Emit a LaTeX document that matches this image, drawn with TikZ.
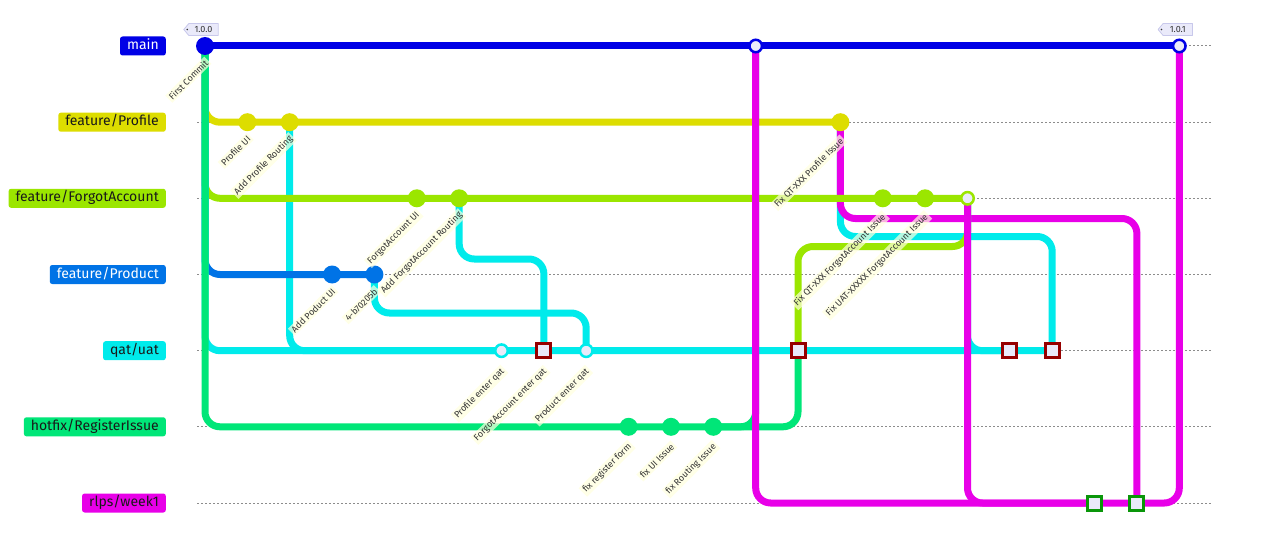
\documentclass[tikz,border=0pt]{standalone}
\usepackage{fontspec}
\setmainfont{Fira Sans}
\usetikzlibrary{calc}
\pgfdeclarelayer{back}
\pgfdeclarelayer{bg}
\pgfsetlayers{back,bg,main}
\definecolor{cmain}{RGB}{0,0,230}
\definecolor{cprof}{RGB}{221,221,0}
\definecolor{cforgot}{RGB}{155,230,0}
\definecolor{cprod}{RGB}{0,115,230}
\definecolor{cqat}{RGB}{0,235,235}
\definecolor{chot}{RGB}{0,230,120}
\definecolor{crel}{RGB}{232,0,232}
\definecolor{lav}{RGB}{234,234,250}
\definecolor{tagedge}{RGB}{200,200,235}
\definecolor{lblbg}{RGB}{255,255,222}
\definecolor{ink}{RGB}{51,51,51}
\definecolor{hlred}{RGB}{150,0,0}
\definecolor{hlgreen}{RGB}{10,150,10}
\definecolor{guide}{RGB}{140,140,140}
\begin{document}
\begin{tikzpicture}[x=1pt,y=-1pt,
  blabel/.style={anchor=east, fill=#1, rounded corners=2.5pt, minimum height=19pt,
    inner xsep=7pt, inner ysep=0pt, text height=10pt, text depth=3pt,
    font=\fontsize{14}{16}\selectfont, text=black!90},
  cdot/.style={circle, minimum size=18pt, inner sep=0pt, fill=#1},
  cmerge/.style={circle, minimum size=12.5pt, inner sep=0pt, fill=lav, draw=#1, line width=2.5pt},
  chl/.style={rectangle, minimum size=14pt, inner sep=0pt, fill=lav, draw=#1, line width=3pt},
  clabel/.style={rotate=45, anchor=east, fill=lblbg, fill opacity=0.7, text opacity=1,
    text=ink, inner xsep=2pt, inner ysep=1.5pt, font=\fontsize{9}{10}\selectfont},
  tagtxt/.style={minimum width=29pt, minimum height=11.5pt, inner sep=0pt, text=ink,
    font=\fontsize{9}{10}\selectfont},
  tagbody/.style={fill=lav, draw=tagedge, line width=0.8pt, line join=round},
  wire/.style={line width=7pt, rounded corners=15pt, draw=#1},
  guideline/.style={draw=guide, line width=1pt, dash pattern=on 2pt off 2pt},
]
\begin{pgfonlayer}{back}
  \fill[white] (0,0) rectangle (1272,559);
\end{pgfonlayer}
\useasboundingbox (0,0) rectangle (1272,559);

% branch names
\node[blabel=cmain, text=white] (bmain) at (166,46) {main};
\node[blabel=cprof] (bprof) at (166,122.2) {feature/Profile};
\node[blabel=cforgot] (bforgot) at (166,198.3) {feature/ForgotAccount};
\node[blabel=cprod, text=white] (bprod) at (166,274.5) {feature/Product};
\node[blabel=cqat] (bqat) at (166,350.7) {qat/uat};
\node[blabel=chot] (bhot) at (166,426.8) {hotfix/RegisterIssue};
\node[blabel=crel] (brel) at (166,503) {rlps/week1};

% commits
\node[cdot=cmain]    (c0)  at (205.0,46)    {};
\node[cdot=cprof]    (c1)  at (247.4,122.2) {};
\node[cdot=cprof]    (c2)  at (289.7,122.2) {};
\node[cdot=cprod]    (c3)  at (332.1,274.5) {};
\node[cdot=cprod]    (c4)  at (374.4,274.5) {};
\node[cdot=cforgot]  (c5)  at (416.8,198.3) {};
\node[cdot=cforgot]  (c6)  at (459.2,198.3) {};
\node[cmerge=cqat]   (c7)  at (501.5,350.7) {};
\node[chl=hlred]     (c8)  at (543.9,350.7) {};
\node[cmerge=cqat]   (c9)  at (586.2,350.7) {};
\node[cdot=chot]     (c10) at (628.6,426.8) {};
\node[cdot=chot]     (c11) at (671.0,426.8) {};
\node[cdot=chot]     (c12) at (713.3,426.8) {};
\node[cmerge=cmain]  (c13) at (755.7,46)    {};
\node[chl=hlred]     (c14) at (798.0,350.7) {};
\node[cdot=cprof]    (c15) at (840.4,122.2) {};
\node[cdot=cforgot]  (c16) at (882.8,198.3) {};
\node[cdot=cforgot]  (c17) at (925.1,198.3) {};
\node[cmerge=cforgot](c18) at (967.5,198.3) {};
\node[chl=hlred]     (c19) at (1009.8,350.7) {};
\node[chl=hlred]     (c20) at (1052.2,350.7) {};
\node[chl=hlgreen]   (c21) at (1094.6,503)  {};
\node[chl=hlgreen]   (c22) at (1136.9,503)  {};
\node[cmerge=cmain]  (c23) at (1179.3,46)   {};

% tags
\node[tagtxt] (tag0) at ($(c0)+(-1.5,-16.5)$) {1.0.0};
\node[tagtxt] (tag1) at ($(c23)+(-1.5,-16.5)$) {1.0.1};

% commit messages
\node[clabel] (l0)  at ($(c0)+(3,14)$)  {First Commit};
\node[clabel] (l1)  at ($(c1)+(3,14)$)  {Profile UI};
\node[clabel] (l2)  at ($(c2)+(3,14)$)  {Add Profile Routing};
\node[clabel] (l3)  at ($(c3)+(3,14)$)  {Add Poduct UI};
\node[clabel] (l4)  at ($(c4)+(3,14)$)  {4-b70205b};
\node[clabel] (l5)  at ($(c5)+(3,14)$)  {ForgotAccount UI};
\node[clabel] (l6)  at ($(c6)+(3,14)$)  {Add ForgotAccount Routing};
\node[clabel] (l7)  at ($(c7)+(3,18)$)  {Profile enter qat};
\node[clabel] (l8)  at ($(c8)+(3,18)$)  {ForgotAccount enter qat};
\node[clabel] (l9)  at ($(c9)+(3,18)$)  {Product enter qat};
\node[clabel] (l10) at ($(c10)+(3,17)$) {fix register form};
\node[clabel] (l11) at ($(c11)+(3,17)$) {fix UI Issue};
\node[clabel] (l12) at ($(c12)+(3,17)$) {fix Routing Issue};
\node[clabel] (l15) at ($(c15)+(3,16)$) {Fix QT-XXX Profile Issue};
\node[clabel] (l16) at ($(c16)+(3,16)$) {Fix QT-XXX ForgotAccount Issue};
\node[clabel] (l17) at ($(c17)+(3,16)$) {Fix UAT-XXXXX ForgotAccount Issue};

% routing lanes for merge lines
\coordinate (laneA) at (0,259);
\coordinate (laneB) at (0,313);
\coordinate (laneC) at (0,218.5);
\coordinate (laneD) at (0,236.5);
\coordinate (laneE) at (0,246.5);

\begin{pgfonlayer}{bg}
  % dotted branch guides
  \foreach \yy in {46,122.2,198.3,274.5,350.7,426.8,503}
    \draw[guideline] (197,\yy) -- (1212,\yy);

  % tag bodies
  \foreach \t in {tag0,tag1}{
    \path[tagbody] (\t.north east) -- (\t.north west) -- ($(\t.west)+(-5,0)$)
      -- (\t.south west) -- (\t.south east) -- cycle;
    \fill[ink] ($(\t.west)+(-1.6,0)$) circle (0.9pt);
  }

  % early merges into qat/uat
  \draw[wire=cqat] (c2.center) |- (c7.center);
  \draw[wire=cqat] (c6.center) -- (c6 |- laneA) -- (c8 |- laneA) -- (c8.center);
  \draw[wire=cqat] (c4.center) -- (c4 |- laneB) -- (c9 |- laneB) -- (c9.center);
  % feature/Profile fixes merged onward
  \draw[wire=cqat] (c15.center) -- (c15 |- laneD) -- (c20 |- laneD) -- (c20.center);
  \draw[wire=crel] (c15.center) -- (c15 |- laneC) -- (c22 |- laneC) -- (c22.center);

  % branch rows
  \draw[wire=cmain] (c0.center) -- (c13.center) -- (c23.center);
  \draw[wire=cprof] (c0.center) |- (c1.center) -- (c2.center) -- (c15.center);
  \draw[wire=cforgot] (c0.center) |- (c5.center) -- (c18.center);
  \draw[wire=cprod] (c0.center) |- (c3.center) -- (c4.center);
  \draw[wire=cqat] (c0.center) |- (c7.center) -- (c20.center);
  \draw[wire=chot] (c0.center) |- (c10.center) -- (c12.center);

  % later merges
  \draw[wire=chot] (c12.center) -| (c13.center);
  \draw[wire=chot] (c12.center) -| (c14.center);
  \draw[wire=cforgot] (c14.center) -- (c14 |- laneE) -- (c18 |- laneE) -- (c18.center);
  \draw[wire=cqat] (c18.center) |- (c19.center);
  \draw[wire=crel] (c13.center) |- (c21.center) -- (c22.center) -| (c23.center);
  \draw[wire=crel] (c18.center) |- (c21.center);
\end{pgfonlayer}
\end{tikzpicture}
\end{document}
